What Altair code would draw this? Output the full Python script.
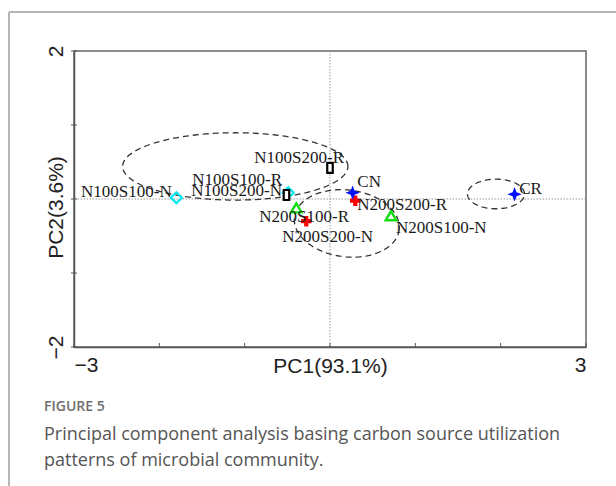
import altair as alt
import pandas as pd
import numpy as np

# ---- data ----
samples = ["CN", "CR", "N100S100-N", "N100S100-R", "N100S200-N", "N100S200-R",
           "N200S100-N", "N200S100-R", "N200S200-N", "N200S200-R"]
groups = ["CK", "CK", "N100S100", "N100S100", "N100S200", "N100S200",
          "N200S100", "N200S100", "N200S200", "N200S200"]
pc1 = [0.265, 2.163, -1.80, -0.49, -0.51, 0.00, 0.715, -0.395, -0.278, 0.296]
pc2 = [0.085, 0.064, 0.018, 0.085, 0.054, 0.42, -0.226, -0.12, -0.30, -0.023]
# label anchors (left edge, vertical middle) in PC units
label_x = [0.320, 2.218, -2.918, -1.614, -1.625, -0.887, 0.773, -0.829, -0.559, 0.320]
label_y = [0.234, 0.135, 0.095, 0.257, 0.112, 0.554, -0.392, -0.243, -0.514, -0.081]

# confidence ellipses: centre, semi-axes, rotation (degrees)
ell_cx = [-1.11, 0.197, 1.945]
ell_cy = [0.44, -0.33, 0.068]
ell_a = [1.32, 0.62, 0.334]
ell_b = [0.455, 0.45, 0.20]
ell_rot = [0.0, -10.0, 0.0]

x_ticks = [-3, -2, -1, 0, 1, 2, 3]
y_ticks = [-2, -1, 0, 1, 2]
x_labels = [-3, 3]
y_labels = [-2, 2]

fig_label = "FIGURE 5"
caption_1 = "Principal component analysis basing carbon source utilization"
caption_2 = "patterns of microbial community."

# ---- tables ----
pts = pd.DataFrame({"x": pc1, "y": pc2, "sample": samples, "group": groups})
labs = pd.DataFrame({"x": label_x, "y": label_y, "sample": samples})

rows = []
t = np.linspace(0, 2 * np.pi, 121)
for i in range(len(ell_cx)):
    th = np.deg2rad(ell_rot[i])
    ex = ell_cx[i] + ell_a[i] * np.cos(t) * np.cos(th) - ell_b[i] * np.sin(t) * np.sin(th)
    ey = ell_cy[i] + ell_a[i] * np.cos(t) * np.sin(th) + ell_b[i] * np.sin(t) * np.cos(th)
    for k in range(len(t)):
        rows.append({"x": ex[k], "y": ey[k], "e": i, "k": k})
ell = pd.DataFrame(rows)

W, H = 512, 296
FONT = "Liberation Sans"
xs = alt.Scale(domain=[-3, 3], nice=False, zero=False)
ys = alt.Scale(domain=[-2, 2], nice=False, zero=False)

xaxis = alt.Axis(values=x_labels, ticks=False, grid=False, labelFlush=True,
                 labelFontSize=21, labelFont=FONT, labelColor="#222", labelPadding=7,
                 domainColor="#555", domainWidth=1.5,
                 titleFontSize=21, titleFont=FONT, titleFontWeight="normal", titleColor="#222",
                 titleX=W / 2, titleY=19, titleBaseline="middle", titleAlign="center")
yaxis = alt.Axis(values=y_labels, ticks=False, grid=False, labelFlush=True, labelAngle=270,
                 labelFontSize=21, labelFont=FONT, labelColor="#222", labelPadding=8,
                 domainColor="#555", domainWidth=1.5,
                 titleFontSize=21, titleFont=FONT, titleFontWeight="normal", titleColor="#222",
                 titleAngle=270, titleX=-18, titleY=156, titleBaseline="middle", titleAlign="center")

X = alt.X("x:Q", scale=xs, axis=xaxis, title="PC1(93.1%)")
Y = alt.Y("y:Q", scale=ys, axis=yaxis, title="PC2(3.6%)")

one = pd.DataFrame({"d": [0]})

# card border
border_top = alt.Chart(one).mark_rule(color="#b5b5b5", strokeWidth=2).encode(
    x=alt.value(-65), x2=alt.value(560), y=alt.value(-39))
border_left = alt.Chart(one).mark_rule(color="#b5b5b5", strokeWidth=2).encode(
    x=alt.value(-65), y=alt.value(-39), y2=alt.value(460))

# zero reference lines
zero_v = alt.Chart(one).mark_rule(color="#999", strokeDash=[1.5, 1.5], strokeWidth=1).encode(
    x=alt.X(datum=0, scale=xs, axis=xaxis, title="PC1(93.1%)"))
zero_h = alt.Chart(one).mark_rule(color="#999", strokeDash=[1.5, 1.5], strokeWidth=1).encode(
    y=alt.Y(datum=0, scale=ys, axis=yaxis, title="PC2(3.6%)"))

# ticks
xt = alt.Chart(pd.DataFrame({"x": x_ticks})).mark_rule(color="#555", strokeWidth=1).encode(
    x=X, y=alt.value(H), y2=alt.value(H - 4))
yt = alt.Chart(pd.DataFrame({"y": y_ticks})).mark_rule(color="#555", strokeWidth=1).encode(
    y=Y, x=alt.value(-3), x2=alt.value(3))

ellipses = alt.Chart(ell).mark_line(color="#333", strokeDash=[6, 4], strokeWidth=1.3).encode(
    x=X, y=Y, detail="e:N", order="k:Q")

star = "M0,-1L0.28,-0.28L1,0L0.28,0.28L0,1L-0.28,0.28L-1,0L-0.28,-0.28Z"
rect = "M-0.55,-1H0.55V1H-0.55Z"

def pts_layer(g, **kw):
    return alt.Chart(pts).transform_filter(alt.datum.group == g).mark_point(
        opacity=1, **kw).encode(x=X, y=Y)

p_ck = pts_layer("CK", shape=star, size=210, filled=True, color="#0010ff")
p_d = pts_layer("N100S100", shape="diamond", size=120, filled=False, stroke="#00e8f0", strokeWidth=2.2)
p_r = pts_layer("N100S200", shape=rect, size=100, filled=True, fill="white", stroke="#000", strokeWidth=2.2)
p_t = pts_layer("N200S100", shape="triangle-up", size=110, filled=True, fill="white", stroke="#10e010", strokeWidth=2.4)
p_c = pts_layer("N200S200", shape="cross", size=110, filled=True, color="#ff0000")

labels = alt.Chart(labs).mark_text(align="left", baseline="middle", font="Liberation Serif",
                                   fontSize=17, color="#1a1a1a").encode(x=X, y=Y, text="sample:N")

def cap(txt, yv, **kw):
    return alt.Chart(pd.DataFrame({"t": [txt]})).mark_text(
        align="left", baseline="middle", font="Open Sans", **kw).encode(
        x=alt.value(-30), y=alt.value(yv), text="t:N")

c0 = cap(fig_label, 356, fontSize=14, fontWeight=600, color="#6e6e6e")
c1 = cap(caption_1, 384, fontSize=18, color="#555")
c2 = cap(caption_2, 410, fontSize=18, color="#555")

chart = alt.layer(
    border_top, border_left, zero_v, zero_h, xt, yt, ellipses,
    p_d, p_r, p_t, p_c, p_ck, labels, c0, c1, c2
).properties(
    width=W, height=H,
    autosize=alt.AutoSizeParams(type="none"),
    padding={"left": 74, "top": 51, "right": 30, "bottom": 139},
    background="white",
).configure_view(stroke="#666", strokeWidth=1.5)

chart.save("out.html", embed_options={"renderer": "svg", "actions": False})
